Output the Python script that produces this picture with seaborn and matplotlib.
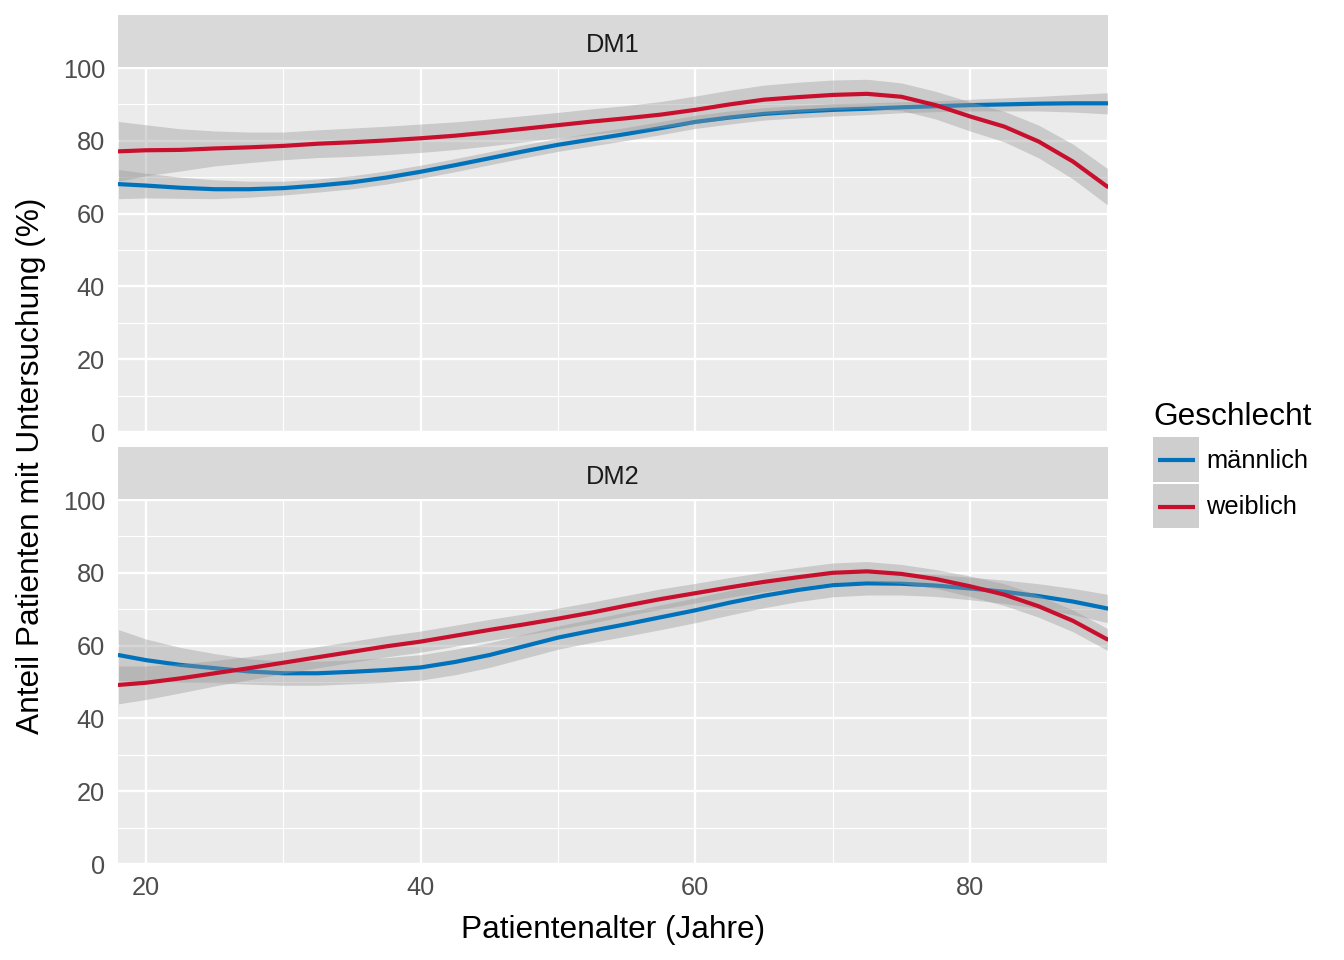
import numpy as np
import pandas as pd
import matplotlib
matplotlib.use("Agg")
import matplotlib.pyplot as plt
import seaborn as sns
from matplotlib.patches import Rectangle
from matplotlib.lines import Line2D

# ---------------- data ----------------
ages = [18, 20, 22.5, 25, 27.5, 30, 32.5, 35, 37.5, 40, 42.5, 45, 47.5, 50, 52.5, 55, 57.5,
        60, 62.5, 65, 67.5, 70, 72.5, 75, 77.5, 80, 82.5, 85, 87.5, 90]

dm1_male = [68.1, 67.7, 67.1, 66.7, 66.7, 67.0, 67.7, 68.6, 69.9, 71.5, 73.3, 75.2, 77.1, 78.9, 80.4, 81.9, 83.5,
            85.2, 86.4, 87.4, 88.0, 88.5, 88.8, 89.2, 89.5, 89.8, 90.0, 90.2, 90.3, 90.3]
dm1_male_band = [4.0, 3.4, 2.9, 2.6, 2.2, 1.9, 1.8, 1.8, 1.8, 1.8, 1.8, 1.8, 1.8, 1.8, 1.8, 1.8, 1.8,
                 1.8, 1.8, 1.7, 1.7, 1.7, 1.6, 1.5, 1.5, 1.6, 1.8, 2.0, 2.4, 2.9]
dm1_female = [77.1, 77.4, 77.5, 77.9, 78.2, 78.6, 79.2, 79.6, 80.1, 80.7, 81.4, 82.3, 83.3, 84.3, 85.3, 86.2, 87.2,
              88.5, 90.0, 91.3, 92.0, 92.6, 92.9, 92.1, 89.8, 86.7, 83.9, 79.8, 74.3, 67.4]
dm1_female_band = [8.2, 7.0, 5.8, 4.8, 4.2, 3.8, 3.8, 3.9, 3.9, 3.9, 3.8, 3.7, 3.6, 3.5, 3.5, 3.5, 3.6,
                   3.8, 3.9, 4.0, 4.1, 4.1, 4.0, 3.8, 3.8, 4.0, 4.2, 4.5, 4.8, 5.0]

dm2_male = [57.4, 56.0, 54.7, 53.8, 52.9, 52.4, 52.4, 52.8, 53.3, 54.0, 55.5, 57.4, 59.8, 62.2, 64.1, 65.9, 67.8,
            69.7, 71.8, 73.7, 75.3, 76.6, 77.1, 77.0, 76.5, 75.7, 74.8, 73.6, 72.1, 70.2]
dm2_male_band = [7.0, 5.8, 4.8, 4.0, 3.5, 3.3, 3.3, 3.3, 3.4, 3.5, 3.5, 3.4, 3.3, 3.2, 3.2, 3.3, 3.4,
                 3.4, 3.4, 3.3, 3.2, 3.2, 3.2, 3.1, 3.0, 3.1, 3.2, 3.4, 3.6, 3.9]
dm2_female = [49.2, 49.8, 51.0, 52.4, 53.8, 55.3, 56.8, 58.3, 59.8, 61.1, 62.7, 64.3, 65.8, 67.4, 69.1, 71.0, 72.8,
              74.4, 76.0, 77.5, 78.8, 80.0, 80.4, 79.7, 78.3, 76.3, 74.0, 70.8, 66.8, 61.7]
dm2_female_band = [5.2, 4.6, 4.0, 3.5, 3.2, 3.0, 2.9, 2.9, 2.9, 2.9, 2.9, 2.9, 2.9, 2.9, 2.9, 2.8, 2.8,
                   2.7, 2.7, 2.7, 2.7, 2.7, 2.7, 2.6, 2.6, 2.8, 3.0, 3.0, 3.0, 3.0]

panels = ["DM1", "DM2"]
sexes = ["männlich", "weiblich"]
colors = {"männlich": "#0072BB", "weiblich": "#C8102E"}

x_major = [20, 40, 60, 80]
x_minor = [30, 50, 70, 90]
y_major = [0, 20, 40, 60, 80, 100]
y_minor = [10, 30, 50, 70, 90]

series = {
    ("DM1", "männlich"): (dm1_male, dm1_male_band),
    ("DM1", "weiblich"): (dm1_female, dm1_female_band),
    ("DM2", "männlich"): (dm2_male, dm2_male_band),
    ("DM2", "weiblich"): (dm2_female, dm2_female_band),
}
rows = []
for (p, s), (vals, band) in series.items():
    for a, v, b in zip(ages, vals, band):
        rows.append({"panel": p, "sex": s, "age": a, "value": v, "lo": v - b, "hi": v + b})
df = pd.DataFrame(rows)

# ---------------- style ----------------
sns.set_style("white")
plt.rcParams['font.family'] = ['Liberation Sans', 'DejaVu Sans']

W, H = 1344, 960
fig = plt.figure(figsize=(13.44, 9.6), dpi=100)

def fx(px):
    return px / W

def fy(py):
    return 1 - py / H

PL, PR = 118, 1108
layout = {"DM1": (15, 67, 68, 432), "DM2": (447, 499, 500, 864)}
SMALL = 18.3
BIG = 22.8

for i, p in enumerate(panels):
    st, sb, pt, pb = layout[p]
    # strip
    sax = fig.add_axes([fx(PL), fy(sb), (PR - PL) / W, (sb - st) / H])
    sax.set_facecolor("#D9D9D9")
    sax.set_xticks([]); sax.set_yticks([])
    for sp in sax.spines.values():
        sp.set_visible(False)

    ax = fig.add_axes([fx(PL), fy(pb), (PR - PL) / W, (pb - pt) / H])
    ax.set_facecolor("#EBEBEB")
    for sp in ax.spines.values():
        sp.set_visible(False)

    z = 2
    for s in sexes:
        sub = df[(df.panel == p) & (df.sex == s)]
        ax.fill_between(sub["age"], sub["lo"], sub["hi"], color="#999999", alpha=0.4,
                        lw=0, zorder=z)
        sns.lineplot(data=sub, x="age", y="value", color=colors[s], lw=3.0, ax=ax,
                     legend=False, errorbar=None, zorder=z + 1)
        z += 2

    ax.set_xlim(17.96, 90.05)
    ax.set_ylim(0, 100)
    ax.set_xticks(x_major)
    ax.set_xticks(x_minor, minor=True)
    ax.set_yticks(y_major)
    ax.set_yticks(y_minor, minor=True)
    ax.set_axisbelow(True)
    ax.grid(which="major", color="white", lw=1.7)
    ax.grid(which="minor", color="white", lw=0.85)
    ax.set_xlabel("")
    ax.set_ylabel("")
    ax.tick_params(which="major", length=5.3, width=1.4, color="#333333",
                   labelsize=SMALL, labelcolor="#4D4D4D")
    ax.tick_params(axis="y", which="major", pad=4)
    ax.tick_params(axis="x", which="major", pad=3)
    ax.tick_params(which="minor", length=0)
    if i == 0:
        ax.tick_params(axis="x", which="major", length=0, labelbottom=False)

# ---------------- overlay: titles + legend ----------------
lax = fig.add_axes([0, 0, 1, 1], zorder=-1)
lax.set_xlim(0, W)
lax.set_ylim(H, 0)
lax.axis("off")

# strip labels (placed on overlay, drawn above strips)
tax = fig.add_axes([0, 0, 1, 1], zorder=5)
tax.set_xlim(0, W)
tax.set_ylim(H, 0)
tax.axis("off")
tax.text(613, 52, "DM1", ha="center", va="baseline", fontsize=SMALL, color="#1A1A1A")
tax.text(613, 484, "DM2", ha="center", va="baseline", fontsize=SMALL, color="#1A1A1A")

lax.text(613, 930, "Patientenalter (Jahre)", ha="center", va="center", fontsize=BIG, color="black")
lax.text(31, 466, "Anteil Patienten mit Untersuchung (%)", ha="center", va="center",
         rotation=90, fontsize=BIG, color="black")

lax.text(1153, 425, "Geschlecht", ha="left", va="baseline", fontsize=BIG, color="black")
key_tops = [437, 483.5]
for s, kt in zip(sexes, key_tops):
    lax.add_patch(Rectangle((1153, kt), 46, 44.5, facecolor="#F2F2F2", edgecolor="none"))
    lax.add_patch(Rectangle((1153, kt), 46, 44.5, facecolor="#999999", alpha=0.4, edgecolor="none"))
    cy = kt + 23
    lax.add_line(Line2D([1158, 1195], [cy, cy], color=colors[s], lw=3.0, solid_capstyle="butt"))
    lax.text(1206, cy + 1, s, ha="left", va="center", fontsize=SMALL, color="black")

fig.savefig("out.png", dpi=100)
